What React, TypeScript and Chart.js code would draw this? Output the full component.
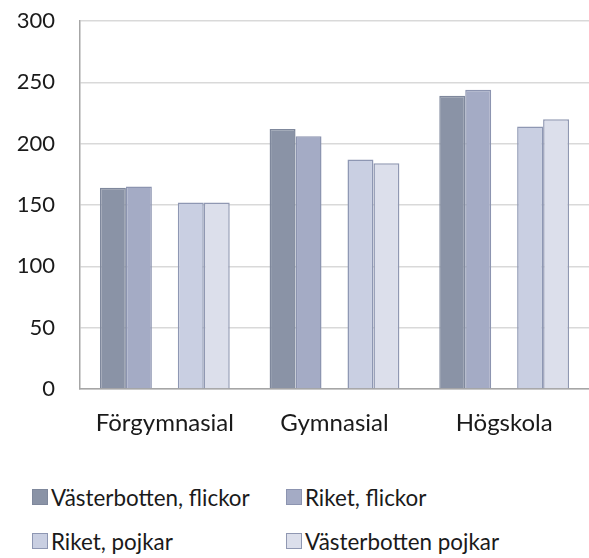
import React, { useEffect, useRef } from "react";
import { Chart, registerables } from "chart.js";

Chart.register(...registerables);

const categories = ["Förgymnasial", "Gymnasial", "Högskola"];
const seriesNames = ["Västerbotten, flickor", "Riket, flickor", "Riket, pojkar", "Västerbotten pojkar"];
const vbFlickor = [164, 212, 239];
const riketFlickor = [165, 206, 244];
const riketPojkar = [152, 187, 214];
const vbPojkar = [152, 184, 220];
const yTicks = [0, 50, 100, 150, 200, 250, 300];

const fills = ["#8a93a6", "#a4abc5", "#c9cfe2", "#dcdfeb"];
const borders = ["#7f889c", "#8c94b0", "#8e97b3", "#9098b2"];
const FONT = "Lato, 'Open Sans', sans-serif";

export default function App() {
  const ref = useRef<HTMLCanvasElement | null>(null);
  useEffect(() => {
    if (!ref.current) return;
    const seriesData = [vbFlickor, riketFlickor, null, riketPojkar, vbPojkar];
    const datasets = seriesData.map((d, i) => {
      if (!d) {
        return { label: "", data: categories.map(() => null), backgroundColor: "transparent", borderWidth: 0 };
      }
      const idx = i < 2 ? i : i - 1;
      return {
        label: seriesNames[idx],
        data: d,
        backgroundColor: fills[idx],
        borderColor: borders[idx],
        borderWidth: 1.5,
      };
    });
    const chart = new Chart(ref.current, {
      type: "bar",
      data: { labels: categories, datasets: datasets as any },
      options: {
        animation: false,
        responsive: false,
        maintainAspectRatio: false,
        layout: { padding: { top: 21, left: 0, right: 0, bottom: 0 } },
        datasets: { bar: { categoryPercentage: 0.765, barPercentage: 1.0 } },
        plugins: { legend: { display: false }, tooltip: { enabled: false } },
        scales: {
          x: {
            grid: { display: false, drawTicks: false },
            border: { display: true, color: "#a6a6a6", width: 1.5 },
            ticks: { color: "#1a1a1a", font: { family: FONT, size: 24 }, padding: 20, maxRotation: 0 },
            afterFit: (s: any) => { s.height = 460 - 389; },
          },
          y: {
            min: 0,
            max: 300,
            afterBuildTicks: (s: any) => { s.ticks = yTicks.map((v) => ({ value: v })); },
            grid: { color: "#d9d9d9", lineWidth: 1.5, drawTicks: false },
            border: { display: true, color: "#a6a6a6", width: 1.5 },
            ticks: { color: "#1a1a1a", font: { family: FONT, size: 22 }, padding: 25 },
            afterFit: (s: any) => {
              s.width = 80;
              s.paddingTop = 0;
              s.paddingBottom = 0;
            },
          },
        },
      },
    });
    return () => chart.destroy();
  }, []);

  const legendPos = [
    { x: 32, y: 497 },
    { x: 286, y: 497 },
    { x: 32, y: 541 },
    { x: 286, y: 541 },
  ];

  return (
    <div style={{ position: "absolute", left: 0, top: 0, width: 589, height: 558, background: "#fff", fontFamily: FONT }}>
      <canvas ref={ref} width={589} height={460} style={{ position: "absolute", left: 0, top: 0, width: 589, height: 460 }} />
      {seriesNames.map((n, i) => (
        <div
          key={n}
          style={{
            position: "absolute",
            left: legendPos[i].x,
            top: legendPos[i].y - 14,
            height: 28,
            display: "flex",
            alignItems: "center",
            fontSize: 22.4,
            color: "#1a1a1a",
            whiteSpace: "nowrap",
          }}
        >
          <span
            style={{
              display: "inline-block",
              width: 14,
              height: 14,
              background: fills[i],
              border: `1.5px solid ${borders[i]}`,
              marginRight: 3,
            }}
          />
          {n}
        </div>
      ))}
    </div>
  );
}
